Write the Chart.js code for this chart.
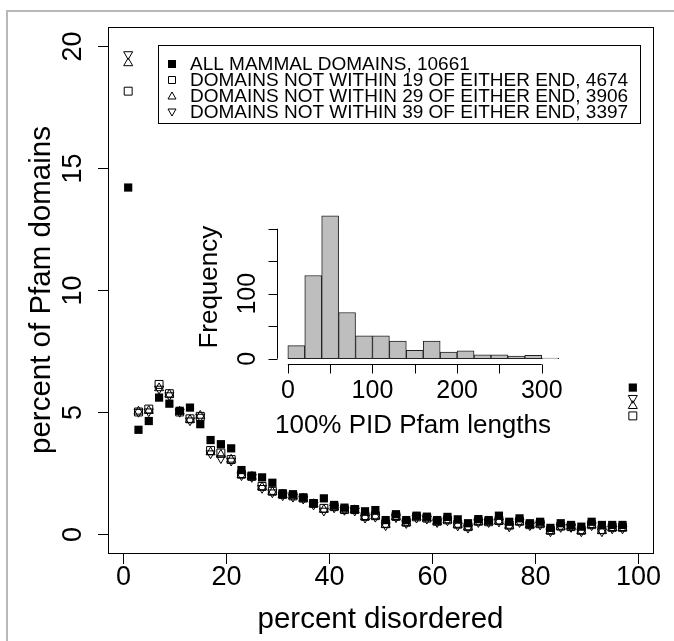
<!DOCTYPE html>
<html>
<head>
<meta charset="utf-8">
<script src="https://cdn.jsdelivr.net/npm/chart.js@4.4.1/dist/chart.umd.min.js"></script>
<style>
  html, body { margin: 0; padding: 0; background: #fff; }
  #wrap { position: relative; width: 674px; height: 641px; }
  #main { position: absolute; left: 0; top: 0; }
  #inset { position: absolute; left: 180px; top: 190px; }
</style>
</head>
<body>
<div id="wrap">
  <canvas id="main" width="674" height="641"></canvas>
  <canvas id="inset" width="400" height="260"></canvas>
</div>
<script>
// percent disordered (bin centres, 2% bins)
const percentDisordered = [1, 3, 5, 7, 9, 11, 13, 15, 17, 19, 21, 23, 25, 27, 29, 31, 33, 35, 37, 39,
  41, 43, 45, 47, 49, 51, 53, 55, 57, 59, 61, 63, 65, 67, 69, 71, 73, 75, 77, 79,
  81, 83, 85, 87, 89, 91, 93, 95, 97, 99];

// percent of Pfam domains for each set
const allDomains = [14.2, 4.27, 4.63, 5.59, 5.34, 5.05, 5.18, 4.5, 3.85, 3.68, 3.51, 2.62, 2.39, 2.32, 2.1, 1.67, 1.63, 1.5, 1.26, 1.46,
  1.19, 1.08, 1.02, 0.93, 0.98, 0.57, 0.81, 0.57, 0.75, 0.71, 0.57, 0.7, 0.6, 0.44, 0.61, 0.57, 0.75, 0.5, 0.64, 0.44,
  0.5, 0.25, 0.44, 0.37, 0.3, 0.5, 0.37, 0.37, 0.37, 6.0];
const notWithin19 = [18.15, 5.0, 5.12, 6.13, 5.75, 5.0, 4.72, 4.82, 3.42, 3.32, 3.05, 2.45, 2.36, 1.95, 1.75, 1.62, 1.56, 1.47, 1.25, 1.05,
  1.12, 1.0, 1.0, 0.72, 0.75, 0.42, 0.72, 0.48, 0.7, 0.65, 0.52, 0.58, 0.4, 0.3, 0.52, 0.5, 0.55, 0.36, 0.52, 0.38,
  0.42, 0.15, 0.32, 0.3, 0.15, 0.38, 0.18, 0.27, 0.27, 4.84];
const notWithin29 = [19.3, 5.02, 5.05, 5.98, 5.72, 5.02, 4.68, 4.85, 3.35, 3.25, 3.05, 2.42, 2.35, 1.92, 1.73, 1.6, 1.55, 1.45, 1.23, 1.0,
  1.1, 1.0, 0.98, 0.7, 0.73, 0.38, 0.7, 0.46, 0.69, 0.64, 0.5, 0.57, 0.38, 0.28, 0.5, 0.5, 0.52, 0.34, 0.5, 0.37,
  0.4, 0.12, 0.3, 0.3, 0.12, 0.37, 0.12, 0.25, 0.25, 5.25];
const notWithin39 = [19.66, 5.0, 5.02, 5.95, 5.68, 5.0, 4.65, 4.8, 3.3, 3.1, 3.0, 2.4, 2.33, 1.88, 1.7, 1.58, 1.52, 1.44, 1.2, 0.95,
  1.08, 0.98, 0.95, 0.66, 0.7, 0.35, 0.68, 0.44, 0.66, 0.62, 0.48, 0.55, 0.34, 0.25, 0.48, 0.48, 0.5, 0.3, 0.48, 0.35,
  0.38, 0.1, 0.28, 0.28, 0.1, 0.35, 0.1, 0.22, 0.22, 5.57];

const legendLabels = [
  'ALL MAMMAL DOMAINS, 10661',
  'DOMAINS NOT WITHIN 19 OF EITHER END, 4674',
  'DOMAINS NOT WITHIN 29 OF EITHER END, 3906',
  'DOMAINS NOT WITHIN 39 OF EITHER END, 3397'
];
const xTicks = [0, 20, 40, 60, 80, 100];
const yTicks = [0, 5, 10, 15, 20];

// inset histogram: 100% PID Pfam lengths, 20-residue bins
const lengthBinStarts = [0, 20, 40, 60, 80, 100, 120, 140, 160, 180, 200, 220, 240, 260, 280, 300];
const lengthCounts = [20, 128, 220, 71, 35, 35, 27, 13, 27, 10, 12, 6, 6, 4, 5, 1];
const histXTicks = [0, 50, 100, 150, 200, 250, 300];
const histXLabels = [0, 100, 200, 300];
const histYTicks = [0, 50, 100, 150, 200];
const histYLabels = [0, 100];

const FONT = "'Liberation Sans', Arial, Helvetica, sans-serif";

function pts(ys) {
  return percentDisordered.map((x, i) => ({ x: x, y: ys[i] }));
}

function line(ctx, x1, y1, x2, y2) {
  ctx.beginPath();
  ctx.moveTo(x1, y1);
  ctx.lineTo(x2, y2);
  ctx.stroke();
}

function vText(ctx, text, x, y) {
  ctx.save();
  ctx.translate(x, y);
  ctx.rotate(-Math.PI / 2);
  ctx.fillText(text, 0, 0);
  ctx.restore();
}

// small marker for the legend
function mark(ctx, kind, x, y, s) {
  ctx.beginPath();
  if (kind === 'fill') {
    ctx.fillRect(x - s / 2, y - s / 2, s, s);
    return;
  }
  if (kind === 'square') {
    ctx.rect(x - s / 2 + 0.5, y - s / 2 + 0.5, s - 1, s - 1);
  } else if (kind === 'up') {
    ctx.moveTo(x, y - s / 2);
    ctx.lineTo(x + s / 2, y + s / 2 - 1);
    ctx.lineTo(x - s / 2, y + s / 2 - 1);
    ctx.closePath();
  } else {
    ctx.moveTo(x, y + s / 2);
    ctx.lineTo(x + s / 2, y - s / 2 + 1);
    ctx.lineTo(x - s / 2, y - s / 2 + 1);
    ctx.closePath();
  }
  ctx.stroke();
}

const mainDecor = {
  id: 'mainDecor',
  beforeDraw(chart) {
    const ctx = chart.ctx;
    ctx.save();
    ctx.fillStyle = '#fff';
    ctx.fillRect(0, 0, chart.width, chart.height);
    ctx.strokeStyle = '#b8b8b8';
    ctx.lineWidth = 2;
    ctx.beginPath();
    ctx.moveTo(7, chart.height);
    ctx.lineTo(7, 11);
    ctx.lineTo(chart.width, 11);
    ctx.stroke();
    ctx.restore();
  },
  afterDraw(chart) {
    const { ctx, chartArea: a, scales: { x, y } } = chart;
    ctx.save();
    ctx.strokeStyle = '#000';
    ctx.fillStyle = '#000';
    ctx.lineWidth = 1;
    ctx.strokeRect(Math.round(a.left) + 0.5, Math.round(a.top) + 0.5,
      Math.round(a.right - a.left), Math.round(a.bottom - a.top));

    ctx.font = '27px ' + FONT;
    ctx.textAlign = 'center';
    ctx.textBaseline = 'middle';
    xTicks.forEach(v => {
      const px = Math.round(x.getPixelForValue(v)) + 0.5;
      line(ctx, px, a.bottom, px, a.bottom + 11);
      ctx.fillText(String(v), px, a.bottom + 25);
    });
    yTicks.forEach(v => {
      const py = Math.round(y.getPixelForValue(v)) + 0.5;
      line(ctx, a.left - 10, py, a.left, py);
      vText(ctx, String(v), a.left - 34, py);
    });

    ctx.font = '29.5px ' + FONT;
    ctx.fillText('percent disordered', (a.left + a.right) / 2, a.bottom + 67);
    vText(ctx, 'percent of Pfam domains', 42, (a.top + a.bottom) / 2);

    // legend
    ctx.strokeRect(158.5, 45.5, 482, 78);
    const kinds = ['fill', 'square', 'up', 'down'];
    const rows = [64, 80, 96, 112];
    ctx.font = '19px ' + FONT;
    ctx.textAlign = 'left';
    kinds.forEach((k, i) => {
      mark(ctx, k, 172, rows[i], 8);
      ctx.fillText(legendLabels[i], 190, rows[i] + 1);
    });
    ctx.restore();
  }
};

new Chart(document.getElementById('main'), {
  type: 'scatter',
  data: {
    datasets: [
      { label: legendLabels[0], data: pts(allDomains), pointStyle: 'rect', pointRadius: 5.8,
        backgroundColor: '#000', borderColor: '#000', borderWidth: 0 },
      { label: legendLabels[1], data: pts(notWithin19), pointStyle: 'rect', pointRadius: 5.6,
        backgroundColor: 'rgba(0,0,0,0)', borderColor: '#000', borderWidth: 1 },
      { label: legendLabels[2], data: pts(notWithin29), pointStyle: 'triangle', pointRadius: 5.2,
        backgroundColor: 'rgba(0,0,0,0)', borderColor: '#000', borderWidth: 1 },
      { label: legendLabels[3], data: pts(notWithin39), pointStyle: 'triangle', pointRotation: 180, pointRadius: 5.2,
        backgroundColor: 'rgba(0,0,0,0)', borderColor: '#000', borderWidth: 1 }
    ]
  },
  options: {
    responsive: false,
    animation: false,
    events: [],
    layout: { padding: { left: 108, top: 27, right: 21, bottom: 88 } },
    scales: {
      x: { type: 'linear', display: false, min: -2.92, max: 102.92 },
      y: { type: 'linear', display: false, min: -0.78, max: 20.78 }
    },
    plugins: { legend: { display: false }, tooltip: { enabled: false } }
  },
  plugins: [mainDecor]
});

const insetDecor = {
  id: 'insetDecor',
  afterDraw(chart) {
    const { ctx, chartArea: a, scales: { x, y } } = chart;
    ctx.save();
    ctx.strokeStyle = '#000';
    ctx.fillStyle = '#000';
    ctx.lineWidth = 1;
    const by = Math.round(a.bottom) + 0.5;
    const lx = Math.round(a.left) + 0.5;
    line(ctx, x.getPixelForValue(0), by, x.getPixelForValue(300), by);
    line(ctx, lx, y.getPixelForValue(0), lx, y.getPixelForValue(200));
    ctx.font = '25px ' + FONT;
    ctx.textAlign = 'center';
    ctx.textBaseline = 'middle';
    histXTicks.forEach(v => {
      const px = Math.round(x.getPixelForValue(v)) + 0.5;
      line(ctx, px, by, px, by + 9);
    });
    histXLabels.forEach(v => ctx.fillText(String(v), x.getPixelForValue(v), by + 27));
    histYTicks.forEach(v => {
      const py = Math.round(y.getPixelForValue(v)) + 0.5;
      line(ctx, lx - 9, py, lx, py);
    });
    histYLabels.forEach(v => vText(ctx, String(v), lx - 29, y.getPixelForValue(v)));
    ctx.font = '26px ' + FONT;
    ctx.fillText('100% PID Pfam lengths', 233, by + 61);
    vText(ctx, 'Frequency', 30, (a.top + a.bottom) / 2);
    ctx.restore();
  }
};

new Chart(document.getElementById('inset'), {
  type: 'bar',
  data: {
    datasets: [{
      data: lengthBinStarts.map((s, i) => ({ x: s + 10, y: lengthCounts[i] })),
      backgroundColor: '#bebebe',
      borderColor: '#222',
      borderWidth: 1,
      borderSkipped: false,
      barPercentage: 1,
      categoryPercentage: 1
    }]
  },
  options: {
    responsive: false,
    animation: false,
    events: [],
    layout: { padding: { left: 97, top: 20, right: 10.5, bottom: 85.6 } },
    scales: {
      x: { type: 'linear', display: false, offset: false, min: -12.8, max: 332.8 },
      y: { type: 'linear', display: false, min: -8.8, max: 228.8 }
    },
    plugins: { legend: { display: false }, tooltip: { enabled: false } }
  },
  plugins: [insetDecor]
});
</script>
</body>
</html>
